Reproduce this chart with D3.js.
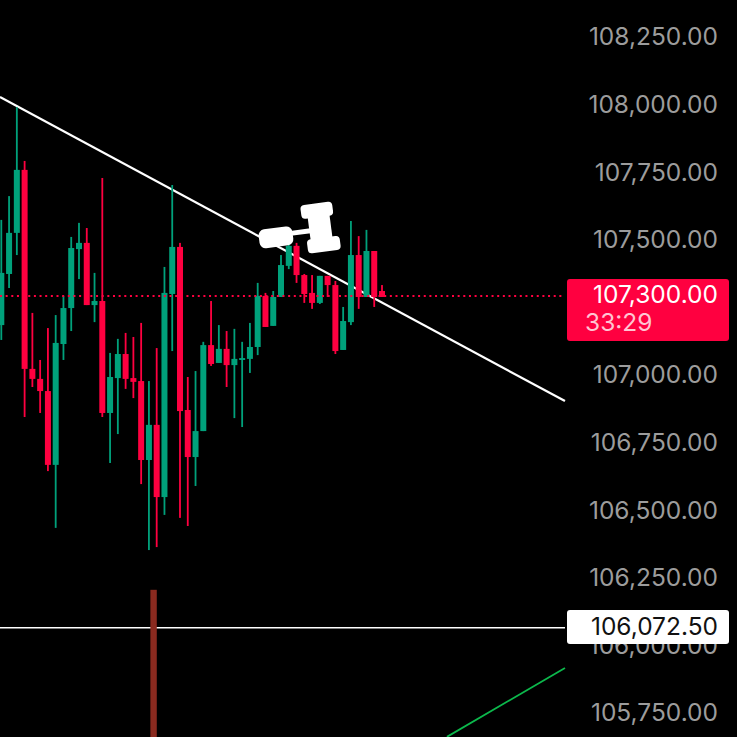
<!DOCTYPE html>
<html>
<head>
<meta charset="utf-8">
<script src="https://cdn.jsdelivr.net/npm/d3@7"></script>
<style>
  html, body { margin: 0; padding: 0; background: #000; }
  svg { display: block; }
  text { font-family: Inter, "Liberation Sans", sans-serif; }
</style>
</head>
<body>
<svg width="737" height="737"></svg>
<script>
const opens = [107192,107381,107533,107766,107030,106993,106948,106675,107122,107255,
  107473,107496,107266,107281,106867,106996,107085,106996,106985,106693,
  106823,106556,107307,107481,106878,106704,106800,107118,107052,107104,
  107044,107063,107067,107111,107300,107189,107296,107411,107485,107377,
  107311,107274,107374,107340,107100,107203,107451,107296,107466,107318];
const closes = [107385,107533,107766,107030,106993,106948,106675,107126,107255,107477,
  107496,107266,107281,106867,107000,107085,106993,106982,106693,106823,
  106556,107311,107481,106874,106704,106800,107118,107048,107104,107044,
  107067,107070,107111,107300,107185,107296,107414,107485,107377,107307,
  107274,107374,107340,107096,107207,107451,107296,107466,107296,107296];
const highs = [107581,107669,107998,107799,107237,107063,107181,107229,107300,107518,
  107570,107551,107385,107736,107089,107141,107163,107148,107200,106985,
  107107,107407,107710,107496,107000,107022,107130,107281,107192,107170,
  107178,107130,107200,107348,107311,107318,107451,107496,107496,107381,
  107377,107374,107374,107355,107259,107577,107521,107544,107466,107340];
const lows = [107137,107329,107451,106852,106963,106867,106652,106442,107063,107170,
  107362,107266,107203,106852,106682,106789,106956,106922,106604,106360,
  106371,106490,107096,106479,106449,106597,106800,107041,107052,106963,
  106848,106815,107015,107081,107185,107189,107296,107399,107348,107274,
  107252,107270,107296,107085,107100,107192,107252,107296,107259,107296];

const tickValues = [108250,108000,107750,107500,107000,106750,106500,106250,106000,105750];
const lastPrice = 107300;
const countdown = '33:29';
const levelPrice = 106072.5;
// trend lines as [bar index, price]
const whiteTrend = [[-0.17,108036],[72.55,106911]];
const greenTrend = [[57.36,105669],[72.55,105924]];
const volumeBarIndex = 19.6;
const volumeBarTop = 106213;

const red = '#ff0040';
const green = '#00a17b';

const svg = d3.select('svg');

const x = d3.scaleLinear().domain([0, 49]).range([1.3, 382]);
const y = d3.scaleLinear().domain([108250, 105750]).range([39, 715]);
const chartRight = 565;

const fmt = d3.format(',.2f');
const trendLine = d3.line().x(d => x(d[0])).y(d => y(d[1]));

// price axis, under the labels
const axis = svg.append('g')
    .attr('transform', 'translate(718, -2)')
    .call(d3.axisLeft(y).tickValues(tickValues).tickSize(0).tickPadding(0).tickFormat(fmt));
axis.select('.domain').remove();
axis.selectAll('text')
    .attr('fill', '#9c9c9c')
    .attr('font-size', 24.5)
    .attr('font-family', 'Inter, sans-serif');

// level line
svg.append('line')
    .attr('x1', 0).attr('x2', chartRight)
    .attr('y1', y(levelPrice)).attr('y2', y(levelPrice))
    .attr('stroke', '#fff').attr('stroke-width', 1.6);

// brown bar at the bottom
svg.append('rect')
    .attr('x', x(volumeBarIndex) - 3.2)
    .attr('y', y(volumeBarTop))
    .attr('width', 6.4)
    .attr('height', 737 - y(volumeBarTop))
    .attr('fill', '#8a2a1f');

svg.append('path').attr('d', trendLine(whiteTrend))
    .attr('stroke', '#fff').attr('stroke-width', 2.2).attr('fill', 'none');
svg.append('path').attr('d', trendLine(greenTrend))
    .attr('stroke', '#0cb84c').attr('stroke-width', 1.8).attr('fill', 'none');

// candles
const candles = svg.append('g').selectAll('g')
    .data(opens.map((o, i) => ({ i, o, c: closes[i], h: highs[i], l: lows[i] })))
    .join('g')
    .attr('fill', d => d.c >= d.o ? green : red)
    .attr('stroke', 'none');

candles.append('rect')
    .attr('x', d => x(d.i) - 0.9)
    .attr('width', 1.8)
    .attr('y', d => y(d.h))
    .attr('height', d => y(d.l) - y(d.h));

candles.append('rect')
    .attr('x', d => x(d.i) - 3)
    .attr('width', 6)
    .attr('y', d => y(Math.max(d.o, d.c)))
    .attr('height', d => Math.max(1.5, Math.abs(y(d.o) - y(d.c))));

// last price dotted line
svg.append('line')
    .attr('x1', 0).attr('x2', chartRight)
    .attr('y1', y(lastPrice)).attr('y2', y(lastPrice))
    .attr('stroke', red).attr('stroke-width', 2)
    .attr('stroke-dasharray', '2 3.65');

// hammer icon
const hammer = svg.append('g')
    .attr('transform', 'translate(320, 227) rotate(-7.5)')
    .attr('fill', '#fff');
hammer.append('rect').attr('x', -62).attr('y', -5).attr('width', 34).attr('height', 19).attr('rx', 6);
hammer.append('rect').attr('x', -30).attr('y', 0).attr('width', 22).attr('height', 5);
hammer.append('rect').attr('x', -11).attr('y', -16).attr('width', 22).attr('height', 33);
hammer.append('rect').attr('x', -17).attr('y', -24).attr('width', 32).attr('height', 14).attr('rx', 4);
hammer.append('rect').attr('x', -15).attr('y', 11).attr('width', 33).attr('height', 14).attr('rx', 4);

// last price tag
svg.append('rect')
    .attr('x', 567).attr('y', 279).attr('width', 162).attr('height', 62).attr('rx', 3)
    .attr('fill', red);
svg.append('text')
    .attr('x', 718).attr('y', y(lastPrice) - 2).attr('dy', '0.36em')
    .attr('text-anchor', 'end').attr('font-size', 24.5).attr('fill', '#fff')
    .text(fmt(lastPrice));
svg.append('text')
    .attr('x', 585).attr('y', 322).attr('dy', '0.36em')
    .attr('font-size', 24.5).attr('fill', '#ffc4d2')
    .text(countdown);

// level tag
svg.append('rect')
    .attr('x', 567).attr('y', 610).attr('width', 162).attr('height', 34).attr('rx', 3)
    .attr('fill', '#fff');
svg.append('text')
    .attr('x', 718).attr('y', y(levelPrice) - 2).attr('dy', '0.36em')
    .attr('text-anchor', 'end').attr('font-size', 24.5).attr('fill', '#111')
    .text(fmt(levelPrice));
</script>
</body>
</html>
